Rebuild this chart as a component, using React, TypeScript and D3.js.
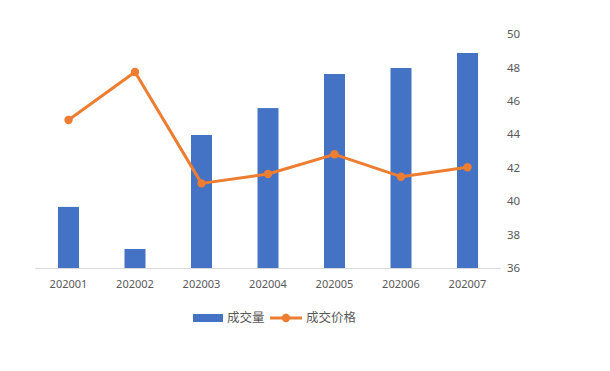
import React from "react";
import * as d3 from "d3";

const months = ["202001", "202002", "202003", "202004", "202005", "202006", "202007"];
const volume = [39.66, 37.14, 43.97, 45.58, 47.62, 47.98, 48.88];
const price = [44.87, 47.74, 41.07, 41.63, 42.81, 41.47, 42.04];
const yTicks = [36, 38, 40, 42, 44, 46, 48, 50];

const W = 610;
const H = 371;
const margin = { top: 34.3, left: 35.25, right: 109.25, bottom: 103 };

const App: React.FC = () => {
  const x = d3
    .scaleBand<string>()
    .domain(months)
    .range([margin.left, W - margin.right])
    .paddingInner(0.68)
    .paddingOuter(0.34);
  const band = d3.scaleBand<string>().domain(months).range([margin.left, W - margin.right]);
  const y = d3.scaleLinear().domain([36, 50]).range([H - margin.bottom, margin.top]);
  const cx = (m: string) => band(m)! + band.bandwidth() / 2;
  const barW = 21;

  const line = d3
    .line<number>()
    .x((_, i) => cx(months[i]))
    .y((d) => y(d));

  const font = "'Noto Sans', 'Noto Sans CJK SC', sans-serif";
  const base = y(36);

  return (
    <svg width={W} height={H} style={{ position: "absolute", left: 0, top: 0, background: "#fff" }}>
      <rect width={W} height={H} fill="#fff" />
      {months.map((m, i) => (
        <rect
          key={m}
          x={cx(m) - barW / 2}
          y={y(volume[i])}
          width={barW}
          height={base - y(volume[i])}
          fill="#4472C4"
        />
      ))}
      <line x1={margin.left} x2={W - margin.right} y1={base + 0.5} y2={base + 0.5} stroke="#D9D9D9" strokeWidth={1} />
      <path d={line(price) ?? ""} fill="none" stroke="#ED7D31" strokeWidth={3} strokeLinejoin="round" />
      {price.map((p, i) => (
        <circle key={i} cx={cx(months[i])} cy={y(p)} r={4.2} fill="#ED7D31" />
      ))}
      {months.map((m) => (
        <text key={m} x={cx(m)} y={288} textAnchor="middle" fontSize={11} fill="#595959" fontFamily={font}>
          {m}
        </text>
      ))}
      {yTicks.map((t) => (
        <text key={t} x={507} y={y(t)} dy="0.35em" fontSize={11.5} fill="#595959" fontFamily={font}>
          {t}
        </text>
      ))}
      <g fontFamily={font} fontSize={12.5} fill="#595959">
        <rect x={193} y={314} width={30} height={8} fill="#4472C4" />
        <text x={227} y={318} dy="0.35em">成交量</text>
        <line x1={270} x2={302} y1={318} y2={318} stroke="#ED7D31" strokeWidth={3} />
        <circle cx={286} cy={318} r={4.2} fill="#ED7D31" />
        <text x={306} y={318} dy="0.35em">成交价格</text>
      </g>
    </svg>
  );
};

export default App;
